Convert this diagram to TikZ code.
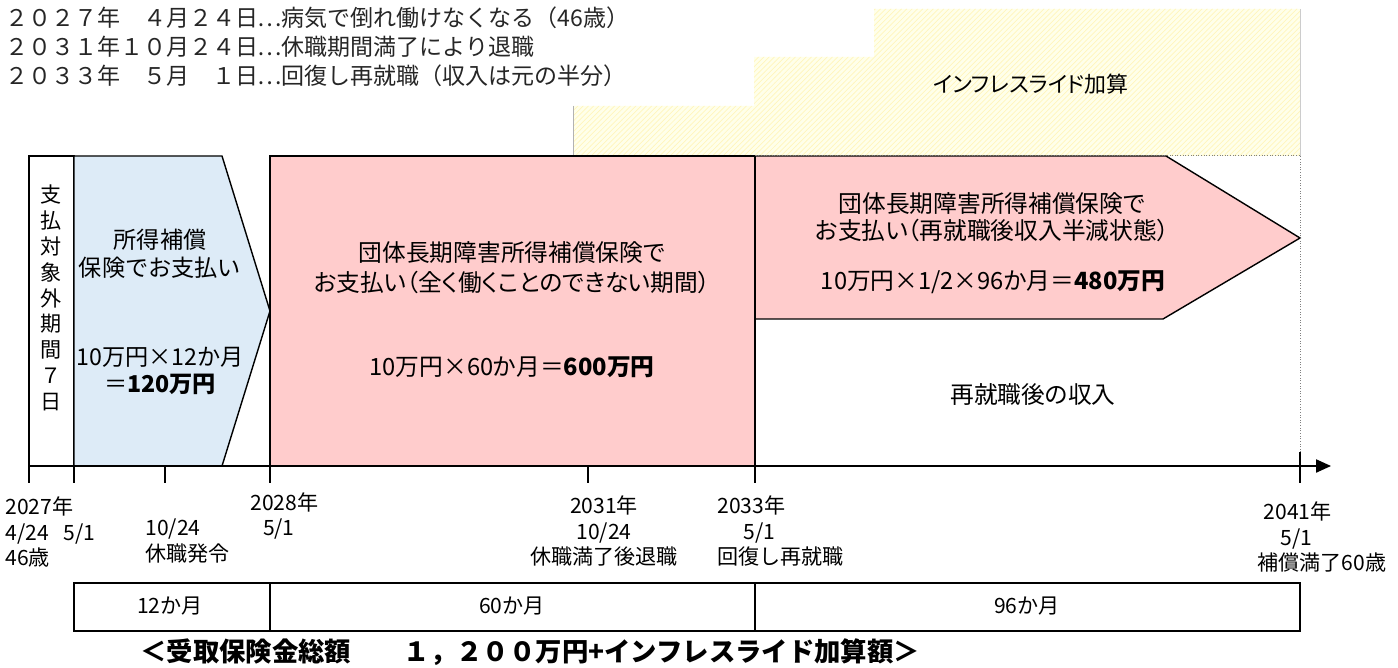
\documentclass[tikz,border=0pt]{standalone}
\usepackage{fontspec}
\setmainfont{Noto Sans CJK JP}
\newfontfamily\propjp[RawFeature=+palt]{Noto Sans CJK JP}
\newcommand\fwdots{\makebox[1em][c]{…}}
\usetikzlibrary{arrows.meta, patterns}
\definecolor{blueband}{HTML}{DDEBF7}
\definecolor{pinkband}{HTML}{FFCCCC}
\definecolor{inflfill}{HTML}{FFFFEA}
\definecolor{inflline}{HTML}{FFF6BC}
\tikzset{
  band/.style={draw=black, line width=0.8pt},
  boxtext/.style={align=center, inner sep=0pt, font=\propjp\fontsize{13.5}{17}\selectfont},
  datelbl/.style={align=left, inner sep=0pt, font=\fontsize{12}{14.6}\selectfont},
  axtick/.style={line width=0.8pt},
}

\begin{document}
\begin{tikzpicture}[x=0.02cm, y=-0.02cm]
        \useasboundingbox (0,0) rectangle (1398,668);
        % header
        \node[anchor=west, align=left, inner sep=0pt, text=black!85, font=\fontsize{13.1}{16.5}\selectfont] (events) at (5,47)
        {２０２７年　４月２４日\fwdots 病気で倒れ働けなくなる（46歳）\\
         ２０３１年１０月２４日\fwdots 休職期間満了により退職\\
         ２０３３年　５月　１日\fwdots 回復し再就職（収入は元の半分）};
        % inflation slide area
        \fill[inflfill] (573,156) -- (573,106) -- (754,106) -- (754,57) -- (874,57) -- (874,9) -- (1300,9) -- (1300,156) -- cycle;
        \fill[pattern=north east lines, pattern color=inflline] (573,156) -- (573,106) -- (754,106) -- (754,57) -- (874,57) -- (874,9) -- (1300,9) -- (1300,156) -- cycle;
        \draw[gray!60, line width=0.4pt] (573,106) -- (573,156);
        \draw[gray!40, line width=0.4pt] (1300,9) -- (1300,156);
        \node[inner sep=0pt, font=\propjp\fontsize{12.5}{15}\selectfont] (infl) at (1031,84) {インフレスライド加算};
        % bands
        \draw[band] (29,156) rectangle (74,466);
        \node[align=center, inner sep=0pt, font=\fontsize{12}{14.7}\selectfont] (nopay) at (51,298)
        {支\\払\\対\\象\\外\\期\\間\\７\\日};
        \draw[band, fill=blueband] (74,156) -- (222,156) -- (270,311) -- (222,466) -- (74,466) -- cycle;
        \node[boxtext, font=\fontsize{13.2}{16}\selectfont] (ins1) at (160,254) {所得補償\\保険でお支払い};
        \node[boxtext, font=\fontsize{13.2}{15.4}\selectfont] (ins1sum) at (160,371) {10万円×12か月\\＝{\bfseries 120万円}};
        \draw[band, fill=pinkband] (270,156) rectangle (755,466);
        \node[boxtext] (ltd1) at (512,268) {団体長期障害所得補償保険で\\お支払い（全く働くことのできない期間）};
        \node[boxtext] (ltd1sum) at (512,367) {10万円×60か月＝{\bfseries 600万円}};
        \draw[band, fill=pinkband] (755,156) -- (1166,156) -- (1300,238) -- (1163,319) -- (755,319) -- cycle;
        \node[boxtext, font=\propjp\fontsize{13.5}{15.5}\selectfont] (ltd2) at (992,217) {団体長期障害所得補償保険で\\お支払い（再就職後収入半減状態）};
        \node[boxtext] (ltd2sum) at (993,282) {10万円×1/2×96か月＝{\bfseries 480万円}};
        \draw[gray, densely dotted, line width=0.5pt] (755,155) rectangle (1300,466);
        \draw[line width=0.8pt] (755,156) -- (755,466);
        \node[boxtext] (rejob) at (1033,395) {再就職後の収入};
        % time axis
        \coordinate (axL) at (29,466);
        \coordinate (axR) at (1331,466);
        \draw[line width=0.8pt, -{Triangle[length=8.5pt,width=7.5pt]}] (axL) -- (axR);
        \foreach \tx in {29,74,165,270,588,755}
            \draw[axtick] (\tx,466) -- (\tx,483);
        \draw[axtick] (1300,452) -- (1300,483);
        \node[datelbl, anchor=west] (d2027) at (5,532) {2027年\\4/24\hspace{0.7em}5/1\\46歳};
        \node[datelbl, anchor=west] (d1024) at (145,541) {10/24\\休職発令};
        \node[datelbl, anchor=west] (d2028) at (250,516) {2028年\\\hspace*{0.6em}5/1};
        \node[datelbl, align=center] (d2031) at (604,531) {2031年\\10/24\\休職満了後退職};
        \node[datelbl, anchor=west] (d2033) at (717,531) {2033年\\\hspace*{1.25em}5/1\\回復し再就職};
        \node[datelbl, anchor=west] (d2041) at (1257,537) {\hspace*{0.3em}2041年\\\hspace*{1.1em}5/1\\補償満了60歳};
        % months table
        \draw[line width=0.8pt] (74,583) rectangle (1300,631);
        \draw[line width=0.8pt] (270,583) -- (270,631);
        \draw[line width=0.8pt] (755,583) -- (755,631);
        \node[datelbl] (m12) at (170,606) {12か月};
        \node[datelbl] (m60) at (512,606) {60か月};
        \node[datelbl] (m96) at (1027,606) {96か月};
        \node[anchor=west, inner sep=0pt, font=\bfseries\fontsize{15}{18}\selectfont] (total) at (140,652)
        {＜受取保険金総額　　１，２００万円+インフレスライド加算額＞};
    \end{tikzpicture}
\end{document}
